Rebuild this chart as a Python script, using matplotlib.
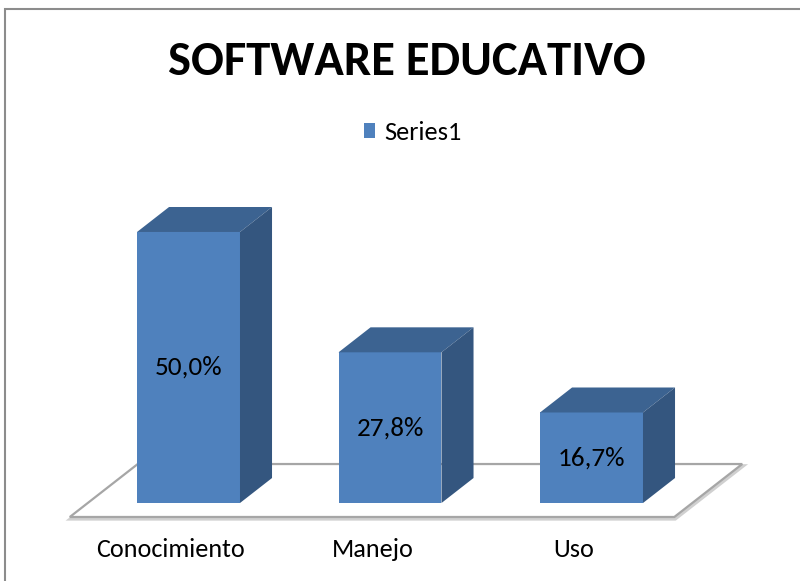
import matplotlib
matplotlib.use("Agg")
import matplotlib.pyplot as plt
import matplotlib.font_manager as fm
from matplotlib.patches import Polygon, Patch, Rectangle

categorias = ["Conocimiento", "Manejo", "Uso"]
valores = [50.0, 27.8, 16.7]
etiquetas = ["50,0%", "27,8%", "16,7%"]
serie = "Series1"
titulo = "SOFTWARE EDUCATIVO"

# fuente tipo Calibri si existe
disponibles = {f.name for f in fm.fontManager.ttflist}
FONT = [n for n in ["Carlito", "Calibri"] if n in disponibles][:1] + ["Liberation Sans", "DejaVu Sans"]
plt.rcParams["font.family"] = FONT

C_FRENTE = "#4F81BD"
C_TECHO = "#3C6391"
C_LADO = "#34567F"

# geometria (unidades de datos: x = categoria, y = %)
W = 0.511              # ancho frente
DX, DY = 0.159, 4.61   # profundidad de la barra
MX, MY = 0.089, 2.58   # margen del piso

fig = plt.figure(figsize=(8, 5.81), dpi=100)
ax = fig.add_axes([0, 0, 1, 1])
ax.set_xlim(-0.9355, 3.0347)
ax.set_ylim(-14.39, 92.80)
ax.axis("off")

xs = list(range(len(valores)))

# piso
x0, x1 = xs[0] - 0.5 - MX, xs[-1] + 0.5 - MX
fl = [(x0, -MY), (x1, -MY), (x1 + DX + 2*MX, DY + MY), (x0 + DX + 2*MX, DY + MY)]
ax.add_patch(Polygon([(p[0] + 0.004, p[1] - 0.35) for p in fl], closed=True,
                     fc="none", ec="#d0d0d0", lw=2.5, zorder=1))
ax.add_patch(Polygon(fl, closed=True, fc="white", ec="#a6a6a6", lw=1.6, zorder=2))

# barras 3D
ax.bar(xs, valores, width=W, color=C_FRENTE, zorder=5, label=serie)
for x, v, t in zip(xs, valores, etiquetas):
    l, r = x - W/2, x + W/2
    ax.add_patch(Polygon([(l, v), (r, v), (r + DX, v + DY), (l + DX, v + DY)],
                         closed=True, fc=C_TECHO, ec="none", zorder=5))
    ax.add_patch(Polygon([(r, 0), (r + DX, DY), (r + DX, v + DY), (r, v)],
                         closed=True, fc=C_LADO, ec="none", zorder=5))
    ax.text(x, v/2, t, ha="center", va="center", fontsize=19.5, color="black", zorder=6)

for x, c in zip(xs, categorias):
    ax.text(x - 0.087, -8.67, c, ha="center", va="center", fontsize=18.8, color="black")

fig.text(0.509, 0.894, titulo, ha="center", va="center", fontsize=35, fontweight="bold")

ax.legend(handles=[Patch(fc=C_FRENTE, label=serie)], loc="center",
          bbox_to_anchor=(0.516, 0.772), bbox_transform=fig.transFigure,
          frameon=False, fontsize=19, handlelength=0.45, handleheight=0.45,
          handletextpad=0.35, borderpad=0)

# marco del grafico
fig.add_artist(Rectangle((5/800, -0.05), 1.2, 1.05 - 9/581, transform=fig.transFigure,
                         fc="none", ec="#8c8c8c", lw=1.5))

fig.savefig("out.png", dpi=100)
